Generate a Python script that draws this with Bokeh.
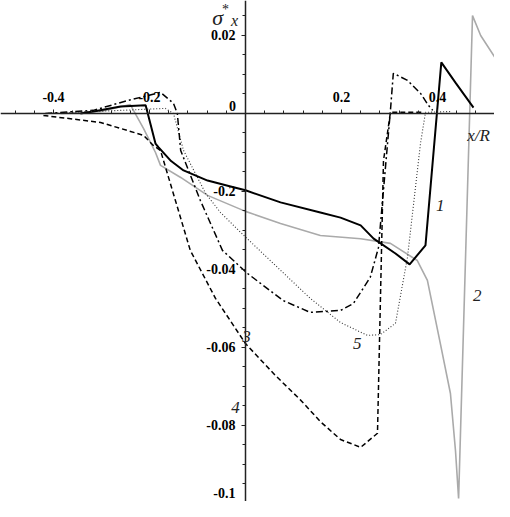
from bokeh.plotting import figure
from bokeh.models import Range1d, LinearAxis, FixedTicker, Label
from bokeh.embed import file_html
from bokeh.resources import INLINE

# ---- data (x/R, sigma*_x) ----
x1 = [-0.344, -0.317, -0.26, -0.208, -0.1875, -0.181, -0.155, -0.129, -0.079, -0.031, 0.0, 0.073,
      0.156, 0.198, 0.240, 0.267, 0.3125, 0.342, 0.375, 0.408, 0.4375, 0.475]
y1 = [0.0, 0.0005, 0.0018, 0.0021, -0.0077, -0.0087, -0.0122, -0.0146, -0.0172, -0.0187, -0.0197,
      -0.0228, -0.0254, -0.0267, -0.0287, -0.0321, -0.0359, -0.0387, -0.0338, 0.0131, 0.0079, 0.0015]

x2 = [-0.385, -0.302, -0.240, -0.2125, -0.1875, -0.177, -0.135, -0.079, 0.0, 0.073, 0.156, 0.240,
      0.302, 0.358, 0.379, 0.406, 0.427, 0.4375, 0.444, 0.473, 0.490, 0.521, 0.548]
y2 = [0.0, 0.0005, 0.0023, -0.0038, -0.0100, -0.0133, -0.0164, -0.0210, -0.0251, -0.0282, -0.0313,
      -0.0321, -0.0333, -0.0377, -0.0428, -0.0590, -0.0718, -0.0864, -0.0987, 0.0251, 0.0200,
      0.0141, 0.0090]

x3 = [-0.417, -0.317, -0.246, -0.177, -0.150, -0.142, -0.135, -0.094, -0.048, 0.004, 0.079, 0.135,
      0.198, 0.225, 0.260, 0.277, 0.302, 0.308, 0.3375, 0.365, 0.381, 0.390]
y3 = [0.0, 0.0008, 0.0033, 0.0054, 0.0026, 0.0, -0.0095, -0.0223, -0.0351, -0.0410, -0.0480,
      -0.0510, -0.0505, -0.0487, -0.0420, -0.0344, 0.0008, 0.0103, 0.0085, 0.0051, 0.0021, 0.0008]

x4 = [-0.421, -0.302, -0.2125, -0.192, -0.177, -0.146, -0.115, -0.0625, 0.0, 0.0625, 0.115, 0.156,
      0.198, 0.240, 0.275, 0.2875, 0.302, 0.371]
y4 = [-0.0005, -0.0023, -0.0056, -0.0082, -0.0095, -0.0223, -0.0351, -0.0474, -0.0590, -0.0672,
      -0.0735, -0.0790, -0.0836, -0.0856, -0.0820, -0.0121, 0.0003, 0.0003]

x5 = [-0.417, -0.26, -0.167, -0.150, -0.129, -0.083, -0.052, -0.010, 0.073, 0.135, 0.198, 0.254,
      0.281, 0.3125, 0.3375, 0.3646, 0.375, 0.427]
y5 = [0.0, 0.0008, 0.0013, 0.0, -0.0095, -0.0205, -0.0254, -0.0305, -0.0402, -0.0474, -0.0536,
      -0.0569, -0.0567, -0.0538, -0.0369, -0.0077, 0.0003, 0.0005]

x_ticks = [-0.4, -0.2, 0.0, 0.2, 0.4]
x_tick_labels = ["-0.4", "-0.2", "", "0.2", "0.4"]
y_ticks = [0.02, 0.0, -0.02, -0.04, -0.06, -0.08]
y_tick_labels = ["0.02", "", "-0.2", "-0.04", "-0.06", "-0.08"]
y_bottom_label = "-0.1"

SERIF = "Liberation Serif"

p = figure(width=494, height=501, output_backend="svg", toolbar_location=None,
           x_range=Range1d(-0.5104, 0.5188), y_range=Range1d(-0.09949, 0.02897),
           x_axis_location=None, y_axis_location=None, min_border=0,
           outline_line_color=None, background_fill_color="white")
p.grid.visible = False

x_minor = [round(-0.48 + 0.04 * i, 2) for i in range(27)]
y_minor = [round(-0.1 + 0.005 * i, 3) for i in range(26)]

xaxis = LinearAxis(fixed_location=0, ticker=FixedTicker(ticks=x_ticks, minor_ticks=x_minor))
xaxis.major_label_overrides = dict(zip(x_ticks, x_tick_labels))
yaxis = LinearAxis(fixed_location=0, ticker=FixedTicker(ticks=y_ticks, minor_ticks=y_minor))
yaxis.major_label_overrides = dict(zip(y_ticks, y_tick_labels))
for ax in (xaxis, yaxis):
    ax.axis_line_width = 1.5
    ax.axis_line_color = "#222222"
    ax.major_tick_in = 0
    ax.major_tick_out = 4
    ax.minor_tick_in = 0
    ax.minor_tick_out = 3
    ax.major_tick_line_color = "#222222"
    ax.minor_tick_line_color = "#222222"
    ax.major_label_text_font = SERIF
    ax.major_label_text_font_style = "bold"
    ax.major_label_text_font_size = "14px"
    ax.major_label_text_color = "black"
xaxis.major_label_standoff = 7
yaxis.major_label_standoff = 6
p.add_layout(xaxis, "above")
p.add_layout(yaxis, "left")

# curves
p.line(x2, y2, line_color="#aaaaaa", line_width=1.6)
p.line(x5, y5, line_color="#333333", line_width=1.1, line_dash="1 2")
p.line(x3, y3, line_color="black", line_width=1.5, line_dash="7 3 2 3")
p.line(x4, y4, line_color="black", line_width=1.5, line_dash="5 3")
p.line(x1, y1, line_color="black", line_width=2.0)

def lab(x, y, t, size="17px", style="italic", color="#222222", align="center"):
    p.add_layout(Label(x=x, y=y, text=t, text_font=SERIF, text_font_style=style,
                       text_font_size=size, text_color=color, text_align=align,
                       text_baseline="middle"))

# axis titles
lab(-0.058, 0.0246, "σ", size="22px")
lab(-0.0417, 0.0266, "*", size="14px", style="normal")
lab(-0.023, 0.0239, "x", size="16px")
lab(0.4854, -0.0056, "x/R", size="17px")
lab(-0.027, 0.0018, "0", size="14px", style="bold", color="black")
lab(-0.0208, -0.0972, y_bottom_label, size="14px", style="bold", color="black", align="right")

# curve numbers
lab(0.406, -0.0236, "1")
lab(0.483, -0.0467, "2")
lab(0.002, -0.0572, "3")
lab(-0.021, -0.0754, "4")
lab(0.233, -0.059, "5")

open("out.html", "w").write(file_html(p, INLINE))
